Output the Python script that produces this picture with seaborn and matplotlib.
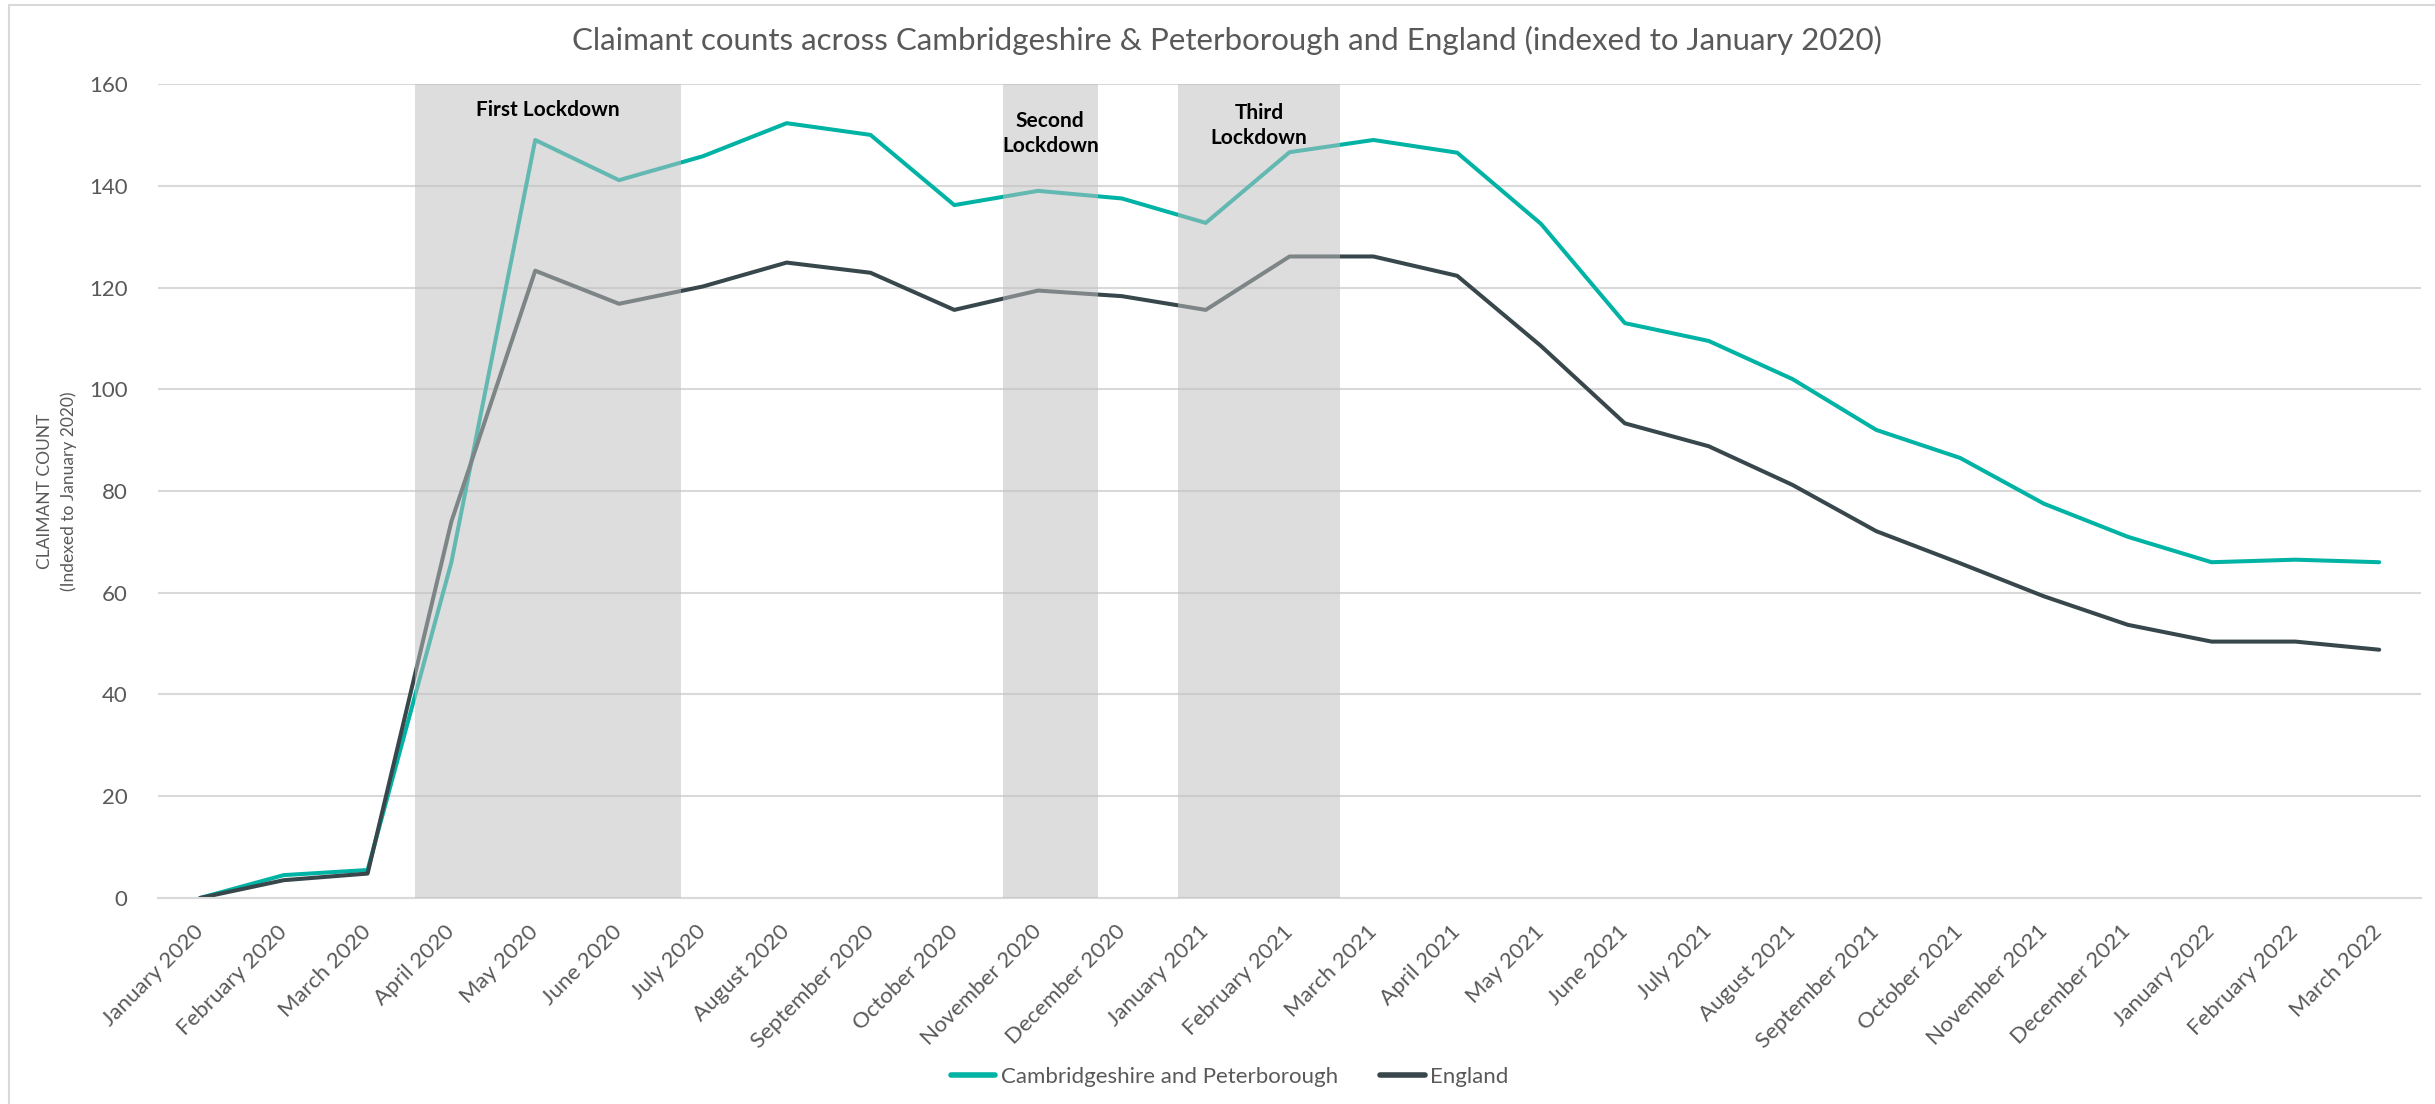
import pandas as pd
import matplotlib.pyplot as plt
import seaborn as sns
from matplotlib.patches import Rectangle

# --- Data ---
months = ["January 2020", "February 2020", "March 2020", "April 2020", "May 2020",
          "June 2020", "July 2020", "August 2020", "September 2020", "October 2020",
          "November 2020", "December 2020", "January 2021", "February 2021",
          "March 2021", "April 2021", "May 2021", "June 2021", "July 2021",
          "August 2021", "September 2021", "October 2021", "November 2021",
          "December 2021", "January 2022", "February 2022", "March 2022"]

cambs = [0, 4.5, 5.5, 66, 149, 141.1, 145.8, 152.3, 150, 136.2, 139, 137.5, 132.7,
         146.6, 149, 146.5, 132.5, 113, 109.5, 102, 92, 86.5, 77.5, 71, 66, 66.5, 66]
england = [0, 3.5, 4.8, 74, 123.3, 116.8, 120.2, 124.9, 122.9, 115.6, 119.4, 118.3, 115.6,
           126.1, 126.1, 122.3, 108.5, 93.3, 88.8, 81.2, 72.1, 65.8, 59.3, 53.7, 50.4, 50.4, 48.8]

series_names = ["Cambridgeshire and Peterborough", "England"]

lockdown_labels = ["First Lockdown", "Second\nLockdown", "Third\nLockdown"]
lockdown_start = [2.56, 9.58, 11.67]
lockdown_end = [5.74, 10.71, 13.6]
lockdown_label_y = [154.9, 150.2, 151.9]

df = pd.DataFrame({
    "idx": list(range(len(months))) * 2,
    "value": cambs + england,
    "series": [series_names[0]] * len(months) + [series_names[1]] * len(months),
})

# --- Plot ---
sns.set_style("white")
plt.rcParams["font.family"] = ["Lato", "DejaVu Sans"]

grey = "#595959"
fig = plt.figure(figsize=(24.35, 11.04), dpi=100)
ax = fig.add_axes([0.0649, 0.1866, 0.9294, 0.7373])

sns.lineplot(data=df, x="idx", y="value", hue="series",
             palette={series_names[0]: "#00B3A4", series_names[1]: "#37474B"},
             linewidth=2.9, ax=ax, zorder=2)

for s, e in zip(lockdown_start, lockdown_end):
    ax.axvspan(s, e, color="#BFBFBF", alpha=0.52, lw=0, zorder=3)
for lab, s, e, y in zip(lockdown_labels, lockdown_start, lockdown_end, lockdown_label_y):
    ax.text((s + e) / 2, y, lab, ha="center", va="center", fontsize=15,
            fontweight="bold", color="black", zorder=4, linespacing=1.3)

ax.set_xlim(-0.5, len(months) - 0.5)
ax.set_ylim(0, 160)
ax.set_yticks(range(0, 161, 20))
ax.set_xticks(range(len(months)))
ax.set_xticklabels(months, rotation=45, ha="right", va="center", rotation_mode="anchor")
ax.tick_params(axis="x", length=0, pad=22, labelsize=16, labelcolor=grey)
ax.tick_params(axis="y", length=0, pad=22, labelsize=16, labelcolor=grey)
ax.grid(axis="y", color="#D9D9D9", linewidth=1.5, zorder=0)
ax.set_axisbelow(True)
sns.despine(ax=ax, left=True, right=True, top=True, bottom=False)
ax.spines["bottom"].set_color("#D9D9D9")
ax.spines["bottom"].set_linewidth(1.5)

ax.set_xlabel("")
ax.set_ylabel("CLAIMANT COUNT\n(Indexed to January 2020)", fontsize=12.5, color=grey,
              linespacing=1.5)
ax.yaxis.set_label_coords(-0.036, 0.5)

fig.text(0.504, 0.9635, "Claimant counts across Cambridgeshire & Peterborough and England (indexed to January 2020)",
         ha="center", va="center", fontsize=22.5, color=grey)

handles, labels = ax.get_legend_handles_labels()
ax.get_legend().remove()
leg = fig.legend(handles, labels, loc="center", bbox_to_anchor=(0.505, 0.0245), ncol=2,
                 frameon=False, fontsize=16, handlelength=2.0, handletextpad=0.25,
                 columnspacing=1.9)
for t in leg.get_texts():
    t.set_color(grey)
for h in leg.get_lines():
    h.set_linewidth(4)

# light chart-area border (top and left visible)
fig.patches.append(Rectangle((0.0037, -0.02), 1.1, 0.9955 + 0.02, transform=fig.transFigure,
                             fill=False, edgecolor="#D9D9D9", linewidth=1.5, clip_on=False))

fig.savefig("out.png", dpi=100)
